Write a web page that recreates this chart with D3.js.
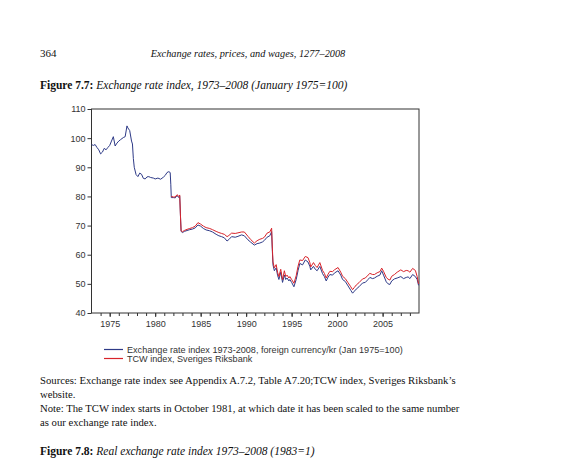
<!DOCTYPE html>
<html>
<head>
<meta charset="utf-8">
<script src="https://cdn.jsdelivr.net/npm/d3@7"></script>
<style>
  body { margin: 0; background: #fff; }
  svg { display: block; }
  .serif { font-family: "Liberation Serif", "Times New Roman", serif; fill: #111; }
  .axis text { font-family: "Liberation Sans", Arial, sans-serif; font-size: 9px; fill: #333; }
  .axis line { stroke: #333; }
</style>
</head>
<body>
<div id="chart"></div>
<script>
// exchange rate index (blue), decimal years
var blueYears = [1973.0,1973.2,1973.4,1973.6,1973.8,1974.0,1974.2,1974.4,1974.6,1974.8,1975.0,1975.2,1975.4,1975.6,1975.8,
  1976.0,1976.2,1976.5,1976.7,1976.9,1977.0,1977.2,1977.4,1977.5,1977.6,1977.7,1977.9,1978.1,1978.3,1978.5,1978.7,1978.9,
  1979.1,1979.3,1979.5,1979.8,1980.0,1980.3,1980.6,1980.9,1981.1,1981.3,1981.5,1981.65,1981.72,
  1981.77,1982.0,1982.2,1982.4,1982.6,1982.7,1982.77,1982.85,1983.0,1983.2,1983.5,1983.8,1984.1,1984.4,1984.7,
  1985.0,1985.3,1985.6,1986.0,1986.3,1986.7,1987.0,1987.3,1987.6,1987.9,1988.1,1988.4,1988.8,1989.1,1989.5,1989.8,
  1990.2,1990.5,1990.9,1991.2,1991.5,1991.8,1992.0,1992.3,1992.6,1992.8,1992.87,1992.95,1993.1,1993.3,1993.45,1993.6,
  1993.8,1994.0,1994.2,1994.35,1994.5,1994.7,1994.8,1995.0,1995.25,1995.5,1995.7,1995.9,1996.2,1996.5,1996.8,1997.0,
  1997.1,1997.4,1997.6,1997.8,1998.1,1998.4,1998.6,1998.8,1999.0,1999.2,1999.5,1999.7,2000.1,2000.4,2000.6,2000.9,
  2001.2,2001.5,2001.7,2001.9,2002.1,2002.4,2002.8,2003.1,2003.4,2003.6,2003.9,2004.1,2004.4,2004.7,2004.9,2005.1,
  2005.4,2005.6,2005.8,2006.0,2006.3,2006.6,2007.0,2007.3,2007.6,2007.8,2008.0,2008.3,2008.6,2008.8,2008.95];
var blueValues = [97.8,97.5,97.8,96.8,96.0,94.6,95.2,96.5,96.0,96.8,97.5,99.0,100.5,97.3,98.3,
  99.0,99.5,100.2,100.5,104.2,103.5,102.6,99.0,98.0,93.0,90.0,87.5,86.8,88.0,87.6,86.2,86.0,
  86.7,86.8,86.5,86.3,86.0,86.3,85.9,86.6,87.2,88.2,88.5,88.2,84.0,
  79.6,79.6,79.5,80.3,79.6,80.0,74.0,68.0,67.6,68.0,68.3,68.6,68.8,69.2,70.2,
  69.8,69.0,68.5,68.2,67.8,67.0,66.5,66.2,65.8,64.7,65.2,66.2,66.0,66.3,66.8,66.5,
  65.1,64.3,63.3,63.8,64.0,64.4,64.9,66.0,66.5,67.9,62.0,56.5,54.5,55.5,53.0,51.5,
  54.0,50.5,53.0,51.5,52.0,51.0,51.5,50.5,49.0,51.5,54.5,57.0,56.5,58.2,57.5,56.0,
  54.8,56.0,55.0,54.5,56.0,53.5,52.5,51.0,52.3,53.2,53.0,53.7,54.5,53.0,51.5,50.8,
  49.3,47.8,46.8,47.5,48.2,49.0,50.3,50.5,51.5,52.2,51.8,52.0,52.6,53.0,54.5,53.0,
  50.7,50.0,49.8,51.0,51.7,52.0,52.5,51.8,52.2,52.4,51.8,53.2,52.5,51.5,49.5];

// TCW index (red), starts October 1981
var redYears = blueYears.slice(45);
var redValues = [80.0,79.8,79.8,80.6,80.0,80.5,74.0,68.2,67.9,68.3,68.7,69.0,69.3,69.8,71.0,
  70.5,69.8,69.3,69.0,68.6,68.0,67.6,67.3,67.0,66.2,66.6,67.4,67.3,67.5,67.8,67.8,
  66.3,65.2,64.0,64.8,65.3,65.6,66.0,67.4,67.8,69.1,63.0,57.5,55.5,56.6,54.0,52.5,
  55.0,51.4,54.5,52.5,53.0,52.0,52.5,51.5,50.2,52.8,56.0,58.2,58.0,59.4,59.0,57.3,
  55.8,57.3,56.3,55.6,57.3,54.6,53.6,52.0,53.3,54.3,54.2,54.8,55.6,54.0,52.6,51.8,
  50.4,49.0,48.0,48.8,49.6,50.4,51.7,52.0,53.0,53.6,53.2,53.2,53.8,54.2,55.4,54.3,
  52.2,51.6,51.3,52.6,53.2,54.0,54.8,54.2,54.6,54.5,54.0,55.3,54.6,52.5,50.0];

var yTicks = [40, 50, 60, 70, 80, 90, 100, 110];
var xLabelYears = [1975, 1980, 1985, 1990, 1995, 2000, 2005];
var legendLabels = ["Exchange rate index 1973-2008, foreign currency/kr (Jan 1975=100)", "TCW index, Sveriges Riksbank"];
var legendColors = ["#2e3a87", "#d8232a"];

var W = 571, H = 467;
var svg = d3.select("#chart").append("svg").attr("width", W).attr("height", H);
svg.append("rect").attr("width", W).attr("height", H).attr("fill", "#fff");

var x = d3.scaleLinear().domain([1973, 2009]).range([91.5, 419]);
var y = d3.scaleLinear().domain([40, 110]).range([313, 109]);

// page text
svg.append("text").attr("class", "serif").attr("x", 40).attr("y", 57).style("font-size", "11px").text("364");
svg.append("text").attr("class", "serif").attr("x", 248).attr("y", 57).attr("text-anchor", "middle")
  .style("font-size", "10.3px").style("font-style", "italic").text("Exchange rates, prices, and wages, 1277\u20132008");

var t1 = svg.append("text").attr("class", "serif").attr("x", 40).attr("y", 89).style("font-size", "11.5px");
t1.append("tspan").style("font-weight", "bold").text("Figure 7.7: ");
t1.append("tspan").style("font-style", "italic").text("Exchange rate index, 1973\u20132008 (January 1975=100)");

// y axis
var yAxis = svg.append("g").attr("class", "axis").attr("transform", "translate(" + x.range()[0] + ",0)")
  .call(d3.axisLeft(y).tickValues(yTicks).tickSize(4).tickSizeOuter(0).tickPadding(2));
yAxis.select(".domain").remove();

// x axis: yearly minor ticks, labelled every 5 years
var minorYears = d3.range(1974, 2009);
var xAxisMinor = svg.append("g").attr("class", "axis").attr("transform", "translate(0," + y.range()[0] + ")")
  .call(d3.axisBottom(x).tickValues(minorYears).tickSize(3).tickFormat(""));
xAxisMinor.select(".domain").remove();
var xAxis = svg.append("g").attr("class", "axis").attr("transform", "translate(0," + y.range()[0] + ")")
  .call(d3.axisBottom(x).tickValues(xLabelYears).tickSize(4).tickPadding(4).tickFormat(d3.format("d")));
xAxis.select(".domain").remove();

// frame
svg.append("rect")
  .attr("x", x.range()[0]).attr("y", y.range()[1])
  .attr("width", x.range()[1] - x.range()[0]).attr("height", y.range()[0] - y.range()[1])
  .attr("fill", "none").attr("stroke", "#333").attr("stroke-width", 1);

var line = d3.line().x(function(d) { return x(d[0]); }).y(function(d) { return y(d[1]); });

svg.append("path").datum(d3.zip(blueYears, blueValues))
  .attr("d", line).attr("fill", "none").attr("stroke", legendColors[0]).attr("stroke-width", 1);
svg.append("path").datum(d3.zip(redYears, redValues))
  .attr("d", line).attr("fill", "none").attr("stroke", legendColors[1]).attr("stroke-width", 1);

// legend
var legend = svg.selectAll(".legend").data(legendLabels).enter().append("g")
  .attr("class", "legend")
  .attr("transform", function(d, i) { return "translate(104," + (349.5 + i * 9) + ")"; });
legend.append("line").attr("x1", 0).attr("x2", 19).attr("y1", 0).attr("y2", 0)
  .attr("stroke", function(d, i) { return legendColors[legendLabels.indexOf(d)]; }).attr("stroke-width", 1.2);
legend.append("text").attr("x", 23).attr("y", 3.1)
  .style("font-family", "Liberation Sans, Arial, sans-serif").style("font-size", "9.1px").style("fill", "#333")
  .text(function(d) { return d; });

// notes
var notes = [
  "Sources: Exchange rate index see Appendix A.7.2, Table A7.20;TCW index, Sveriges Riksbank\u2019s",
  "website.",
  "Note: The TCW index starts in October 1981, at which date it has been scaled to the same number",
  "as our exchange rate index."
];
svg.selectAll(".note").data(notes).enter().append("text")
  .attr("class", "serif note").attr("x", 40)
  .attr("y", function(d, i) { return 384 + i * 14; })
  .style("font-size", "10.7px")
  .text(function(d) { return d; });

var t2 = svg.append("text").attr("class", "serif").attr("x", 40).attr("y", 455).style("font-size", "11.5px");
t2.append("tspan").style("font-weight", "bold").text("Figure 7.8: ");
t2.append("tspan").style("font-style", "italic").text("Real exchange rate index 1973\u20132008 (1983=1)");
</script>
</body>
</html>
